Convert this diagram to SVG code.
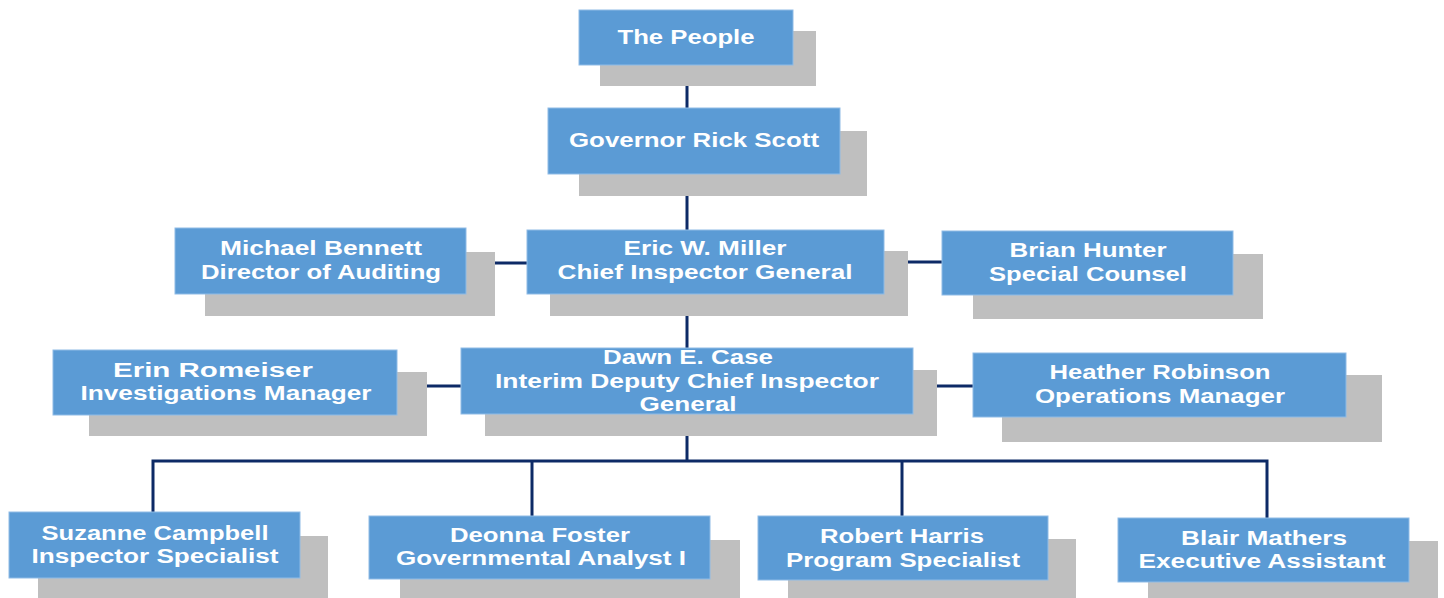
<svg xmlns="http://www.w3.org/2000/svg" width="1444" height="598" viewBox="0 0 1444 598">
  <style>
    .shadow { fill: #bfbfbf; }
    .box { fill: #5b9bd5; stroke: #8fbbe6; stroke-width: 1; }
    .label { font-family: "Liberation Sans", Arial, sans-serif; font-weight: bold; font-size: 20px; fill: #ffffff; text-anchor: middle; }
    .conn { stroke: #0d2a66; stroke-width: 3; fill: none; }
  </style>
  <rect width="1444" height="598" fill="#ffffff"/>

  <!-- connectors -->
  <g id="connectors" class="conn">
    <line x1="687" y1="65" x2="687" y2="108"/>
    <line x1="687" y1="174" x2="687" y2="230"/>
    <line x1="466" y1="263" x2="527" y2="263"/>
    <line x1="884" y1="262" x2="942" y2="262"/>
    <line x1="687" y1="294" x2="687" y2="348"/>
    <line x1="397" y1="386" x2="461" y2="386"/>
    <line x1="913" y1="386" x2="973" y2="386"/>
    <line x1="687" y1="414" x2="687" y2="461"/>
    <polyline points="153,512 153,461 1267,461 1267,518"/>
    <line x1="532" y1="461" x2="532" y2="516"/>
    <line x1="902" y1="461" x2="902" y2="516"/>
  </g>

  <g id="the-people">
    <rect class="shadow" x="600" y="31" width="216" height="55"/>
    <rect class="box" x="579" y="10" width="214" height="55"/>
    <text class="label" x="686" y="44" textLength="137" lengthAdjust="spacingAndGlyphs">The People</text>
  </g>

  <g id="governor">
    <rect class="shadow" x="579" y="131" width="288" height="65"/>
    <rect class="box" x="548" y="108" width="292" height="66"/>
    <text class="label" x="694" y="147" textLength="250" lengthAdjust="spacingAndGlyphs">Governor Rick Scott</text>
  </g>

  <g id="michael-bennett">
    <rect class="shadow" x="205" y="252" width="290" height="64"/>
    <rect class="box" x="175" y="228" width="291" height="66"/>
    <text class="label" x="321" y="255" textLength="202" lengthAdjust="spacingAndGlyphs">Michael Bennett</text>
    <text class="label" x="321" y="279" textLength="240" lengthAdjust="spacingAndGlyphs">Director of Auditing</text>
  </g>

  <g id="eric-miller">
    <rect class="shadow" x="550" y="251" width="358" height="65"/>
    <rect class="box" x="527" y="230" width="357" height="64"/>
    <text class="label" x="705" y="255" textLength="163" lengthAdjust="spacingAndGlyphs">Eric W. Miller</text>
    <text class="label" x="705" y="279" textLength="295" lengthAdjust="spacingAndGlyphs">Chief Inspector General</text>
  </g>

  <g id="brian-hunter">
    <rect class="shadow" x="973" y="254" width="290" height="65"/>
    <rect class="box" x="942" y="231" width="291" height="64"/>
    <text class="label" x="1088" y="257" textLength="157" lengthAdjust="spacingAndGlyphs">Brian Hunter</text>
    <text class="label" x="1088" y="281" textLength="198" lengthAdjust="spacingAndGlyphs">Special Counsel</text>
  </g>

  <g id="erin-romeiser">
    <rect class="shadow" x="89" y="372" width="338" height="64"/>
    <rect class="box" x="53" y="350" width="344" height="65"/>
    <text class="label" x="213" y="377" textLength="200" lengthAdjust="spacingAndGlyphs">Erin Romeiser</text>
    <text class="label" x="226" y="400" textLength="291" lengthAdjust="spacingAndGlyphs">Investigations Manager</text>
  </g>

  <g id="dawn-case">
    <rect class="shadow" x="485" y="370" width="452" height="66"/>
    <rect class="box" x="461" y="348" width="452" height="66"/>
    <text class="label" x="688" y="364" textLength="170" lengthAdjust="spacingAndGlyphs">Dawn E. Case</text>
    <text class="label" x="687" y="388" textLength="384" lengthAdjust="spacingAndGlyphs">Interim Deputy Chief Inspector</text>
    <text class="label" x="688" y="411" textLength="97" lengthAdjust="spacingAndGlyphs">General</text>
  </g>

  <g id="heather-robinson">
    <rect class="shadow" x="1002" y="375" width="380" height="67"/>
    <rect class="box" x="973" y="353" width="373" height="64"/>
    <text class="label" x="1160" y="379" textLength="221" lengthAdjust="spacingAndGlyphs">Heather Robinson</text>
    <text class="label" x="1160" y="403" textLength="250" lengthAdjust="spacingAndGlyphs">Operations Manager</text>
  </g>

  <g id="suzanne-campbell">
    <rect class="shadow" x="38" y="536" width="290" height="62"/>
    <rect class="box" x="9" y="512" width="291" height="66"/>
    <text class="label" x="155" y="540" textLength="227" lengthAdjust="spacingAndGlyphs">Suzanne Campbell</text>
    <text class="label" x="155" y="563" textLength="247" lengthAdjust="spacingAndGlyphs">Inspector Specialist</text>
  </g>

  <g id="deonna-foster">
    <rect class="shadow" x="400" y="540" width="340" height="58"/>
    <rect class="box" x="369" y="516" width="341" height="63"/>
    <text class="label" x="540" y="542" textLength="180" lengthAdjust="spacingAndGlyphs">Deonna Foster</text>
    <text class="label" x="541" y="565" textLength="290" lengthAdjust="spacingAndGlyphs">Governmental Analyst I</text>
  </g>

  <g id="robert-harris">
    <rect class="shadow" x="788" y="539" width="288" height="59"/>
    <rect class="box" x="758" y="516" width="290" height="64"/>
    <text class="label" x="902" y="543" textLength="164" lengthAdjust="spacingAndGlyphs">Robert Harris</text>
    <text class="label" x="903" y="567" textLength="234" lengthAdjust="spacingAndGlyphs">Program Specialist</text>
  </g>

  <g id="blair-mathers">
    <rect class="shadow" x="1148" y="541" width="290" height="57"/>
    <rect class="box" x="1118" y="518" width="291" height="64"/>
    <text class="label" x="1264" y="545" textLength="166" lengthAdjust="spacingAndGlyphs">Blair Mathers</text>
    <text class="label" x="1262" y="568" textLength="247" lengthAdjust="spacingAndGlyphs">Executive Assistant</text>
  </g>
</svg>
